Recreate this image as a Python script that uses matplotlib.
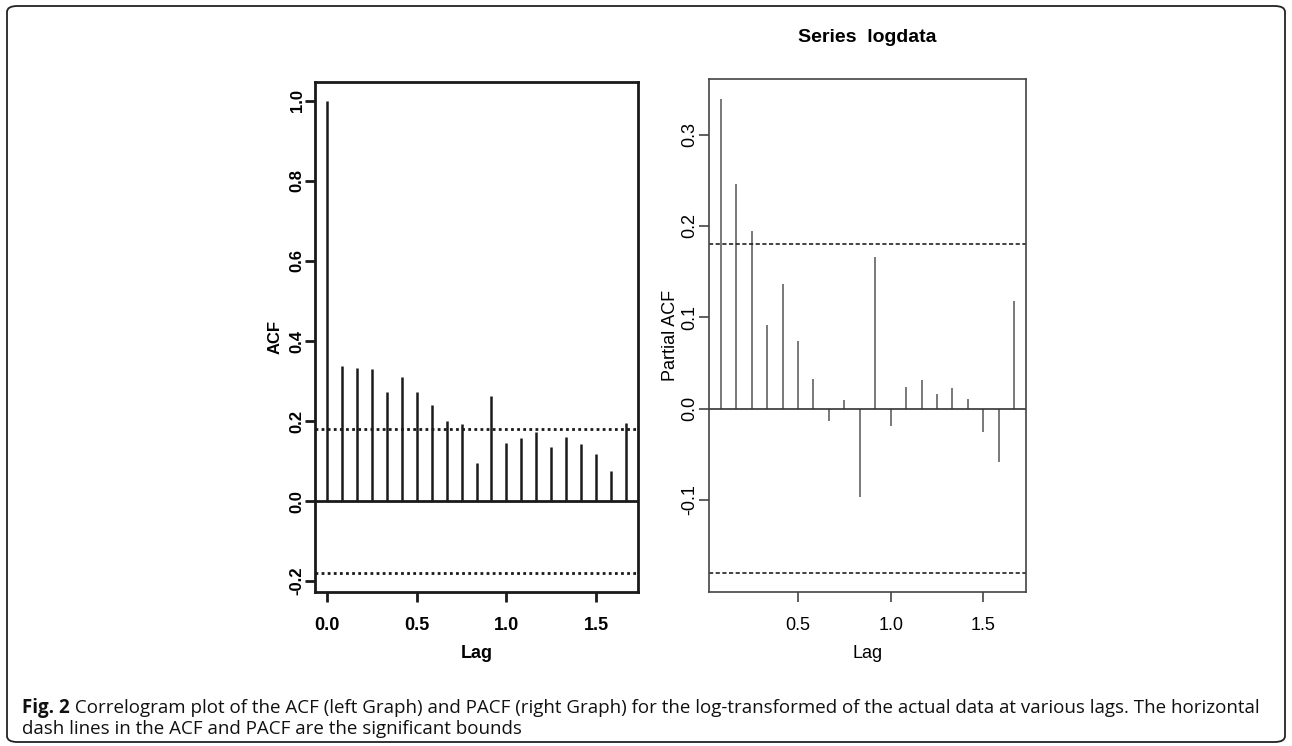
import numpy as np
import matplotlib
matplotlib.use("Agg")
import matplotlib.pyplot as plt
from matplotlib.patches import FancyBboxPatch

# ACF values, lag in years (monthly data, lag k/12)
acf_vals = [1.0, 0.338, 0.332, 0.330, 0.272, 0.309, 0.272, 0.239, 0.199, 0.192, 0.095,
            0.262, 0.146, 0.157, 0.173, 0.136, 0.159, 0.143, 0.117, 0.075, 0.196]
pacf_vals = [0.339, 0.246, 0.194, 0.091, 0.136, 0.074, 0.032, -0.014, 0.009, -0.097,
             0.166, -0.019, 0.024, 0.031, 0.016, 0.022, 0.010, -0.026, -0.059, 0.118]
bound = 0.18
acf_lags = np.arange(len(acf_vals)) / 12
pacf_lags = np.arange(1, len(pacf_vals) + 1) / 12

caption_bold = "Fig. 2"
caption_1 = (" Correlogram plot of the ACF (left Graph) and PACF (right Graph) for the "
             "log-transformed of the actual data at various lags. The horizontal")
caption_2 = "dash lines in the ACF and PACF are the significant bounds"

sans = ['Liberation Sans', 'DejaVu Sans']

fig = plt.figure(figsize=(12.92, 7.46), dpi=100)

# outer rounded frame
frame = FancyBboxPatch((7 / 1292, 4 / 746), 1278 / 1292, 736 / 746,
                       boxstyle="round,pad=0,rounding_size=0.008",
                       transform=fig.transFigure, fill=False, ec='#222222', lw=1.3)
fig.patches.append(frame)

# ---- left: ACF ----
ax1 = fig.add_axes([315 / 1292, 1 - 592 / 746, 323 / 1292, 510 / 746])
ax1.vlines(acf_lags, 0, acf_vals, color='#1a1a1a', lw=1.8)
ax1.axhline(0, color='#1a1a1a', lw=2)
for b in (bound, -bound):
    ax1.axhline(b, color='#1a1a1a', lw=2, linestyle=(0, (1.0, 1.2)))
ax1.set_xlim(-0.0667, 1.7333)
ax1.set_ylim(-0.2272, 1.0472)
ax1.set_xticks([0, 0.5, 1.0, 1.5])
ax1.set_xticklabels(['0.0', '0.5', '1.0', '1.5'], family=sans, fontsize=13, fontweight='bold')
ax1.set_yticks([-0.2, 0, 0.2, 0.4, 0.6, 0.8, 1.0])
ax1.set_yticklabels(['-0.2', '0.0', '0.2', '0.4', '0.6', '0.8', '1.0'],
                    rotation=90, va='center', fontsize=12, fontweight='bold', family=sans)
for s in ax1.spines.values():
    s.set_linewidth(2)
    s.set_color('#1a1a1a')
ax1.tick_params(axis='x', width=2, length=7, color='#1a1a1a', pad=11)
ax1.tick_params(axis='y', width=2, length=7, color='#1a1a1a', pad=0.5)
ax1.set_ylabel("ACF", fontsize=12, fontweight='bold', family=sans)
ax1.yaxis.set_label_coords(-0.100, 0.5)
ax1.set_xlabel("Lag", fontsize=13, fontweight='bold', family=sans, labelpad=8)

# ---- right: PACF ----
ax2 = fig.add_axes([709 / 1292, 1 - 592 / 746, 317 / 1292, 513 / 746])
ax2.vlines(pacf_lags, 0, pacf_vals, color='#555555', lw=1.1)
ax2.axhline(0, color='#333333', lw=1.2)
for b in (bound, -bound):
    ax2.axhline(b, color='#222222', lw=1.2, linestyle=(0, (2.5, 1.5)))
ax2.set_xlim(0.02, 1.73)
ax2.set_ylim(-0.2008, 0.3608)
ax2.set_xticks([0.5, 1.0, 1.5])
ax2.set_xticklabels(['0.5', '1.0', '1.5'], family=sans, fontsize=13)
ax2.set_yticks([-0.1, 0.0, 0.1, 0.2, 0.3])
ax2.set_yticklabels(['-0.1', '0.0', '0.1', '0.2', '0.3'], rotation=90, va='center',
                    family=sans, fontsize=13)
for s in ax2.spines.values():
    s.set_linewidth(1.2)
    s.set_color('#444444')
ax2.tick_params(axis='x', width=1.2, length=7, color='#444444', pad=11)
ax2.tick_params(axis='y', width=1.2, length=7, color='#444444', pad=0.5)
ax2.set_ylabel("Partial ACF", family=sans, fontsize=13)
ax2.yaxis.set_label_coords(-0.095, 0.5)
ax2.set_xlabel("Lag", family=sans, fontsize=13, labelpad=8)
ax2.set_title("Series  logdata", family=sans, fontsize=14, fontweight='bold', pad=27)

# ---- caption ----
t = fig.text(22 / 1292, 1 - 708 / 746, caption_bold, family='Open Sans', fontweight='bold',
             fontsize=13.5, va='center', color='#111111')
fig.canvas.draw()
bb = t.get_window_extent()
fig.text(bb.x1 / 1292, 1 - 708 / 746, caption_1, family='Open Sans', fontsize=13.5,
         va='center', color='#111111')
fig.text(22 / 1292, 1 - 729 / 746, caption_2, family='Open Sans', fontsize=13.5,
         va='center', color='#111111')

fig.savefig("out.png", dpi=100)
